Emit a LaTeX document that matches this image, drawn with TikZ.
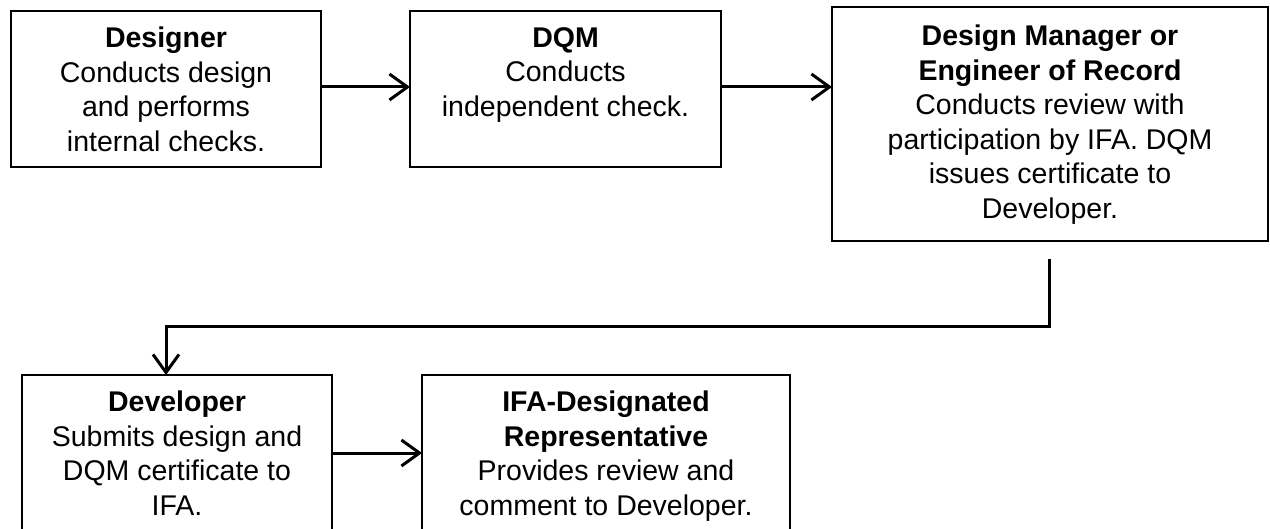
\documentclass[tikz,border=0pt]{standalone}
\usepackage{fontspec}
\setmainfont{Liberation Sans}
\usetikzlibrary{arrows.meta}
\begin{document}
\begin{tikzpicture}[x=1pt,y=-1pt,
  box/.style={draw, line width=1.5pt, rectangle, inner sep=0pt, outer sep=0pt},
  txt/.style={anchor=north, align=center, inner sep=0pt, font=\fontsize{28.5}{34.5}\selectfont},
  conn/.style={line width=3pt, -{Straight Barb[length=18pt,width=26pt,line width=3pt]}}]
\useasboundingbox (0,0) rectangle (1270,529);
\clip (0,0) rectangle (1270,529);
% boxes
\node[box, minimum width=310pt, minimum height=156pt] (des) at (166,89) {};
\node[box, minimum width=311pt, minimum height=156pt] (dqm) at (565.5,89) {};
\node[box, minimum width=436pt, minimum height=234pt] (dm) at (1050,124) {};
\node[box, minimum width=310pt, minimum height=200pt] (dev) at (177,475) {};
\node[box, minimum width=368pt, minimum height=200pt] (ifa) at (606,475) {};
% texts
\node[txt] (destxt) at ([yshift=-16pt]des.north) {\textbf{Designer}\\Conducts design\\and performs\\internal checks.};
\node[txt] (dqmtxt) at ([yshift=-16pt]dqm.north) {\textbf{DQM}\\Conducts\\independent check.};
\node[txt] (dmtxt) at ([yshift=-18pt]dm.north) {\textbf{Design Manager or}\\\textbf{Engineer of Record}\\Conducts review with\\participation by IFA. DQM\\issues certificate to\\Developer.};
\node[txt] (devtxt) at ([yshift=-16pt]dev.north) {\textbf{Developer}\\Submits design and\\DQM certificate to\\IFA.};
\node[txt] (ifatxt) at ([yshift=-16pt]ifa.north) {\textbf{IFA-Designated}\\\textbf{Representative}\\Provides review and\\comment to Developer.};
% connectors
\draw[conn] ([yshift=2pt]des.east) -- ([yshift=2pt]dqm.west);
\draw[conn] ([yshift=2pt]dqm.east) -- ([yshift=2pt]dqm.east -| dm.west);
\coordinate (c0) at ([xshift=-1pt,yshift=-18pt]dm.south);
\draw[conn] (c0) -- ++(0,68) -| ([xshift=-11pt]dev.north);
\draw[conn] ([yshift=22pt]dev.east) -- ([yshift=22pt]dev.east -| ifa.west);
\end{tikzpicture}
\end{document}
